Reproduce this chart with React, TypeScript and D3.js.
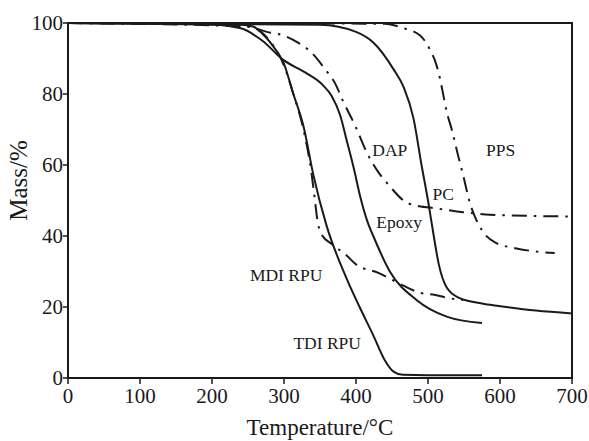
import React from 'react';
import * as d3 from 'd3';

const xTicks = [0, 100, 200, 300, 400, 500, 600, 700];
const yTicks = [0, 20, 40, 60, 80, 100];

const tdiT = [0, 240, 257, 270, 290, 299, 313, 327, 341, 359, 387, 405, 424, 440, 452, 465, 500, 575];
const tdiM = [100, 99.5, 99, 97, 92, 89, 80, 71, 57, 43, 28, 20, 12, 5, 1.8, 0.9, 0.8, 0.8];

const mdiT = [0, 250, 280, 300, 313, 327, 338, 343, 346, 352, 368, 387, 400, 431, 447, 466, 489, 510, 526, 549];
const mdiM = [100, 99, 95, 88, 80, 70, 58, 50, 45, 40.5, 37.5, 34.5, 32, 29.6, 28, 26, 24, 23.4, 22.6, 22];

const epoxyT = [0, 200, 240, 270, 299, 330, 354, 366, 378, 387, 397, 406, 416, 424, 447, 484, 526, 575];
const epoxyM = [100, 99.5, 98.5, 95, 89.6, 86, 82.5, 79.5, 74, 67, 59, 51, 44, 40, 30, 22, 17.3, 15.5];

const pcT = [0, 350, 400, 424, 452, 466, 480, 491, 500, 508, 515, 526, 544, 575, 609, 650, 700];
const pcM = [100, 99.5, 97.5, 94.5, 87, 82, 73, 60, 50, 40, 32, 25.5, 22.5, 21, 20, 19, 18.2];

const dapT = [0, 230, 260, 276, 299, 320, 339, 357, 371, 382, 399, 415, 431, 447, 468, 490, 503, 549, 586, 700];
const dapM = [100, 99.5, 98.5, 97.5, 96.5, 94.4, 91.5, 87, 83, 78, 71, 63.5, 58, 54, 49.7, 48.3, 48, 46.7, 46, 45.5];

const ppsT = [0, 440, 465, 489, 503, 512, 517, 521, 526, 533, 542, 549, 558, 565, 577, 595, 618, 651, 676];
const ppsM = [100, 99.8, 98.6, 96.5, 92.4, 88, 84, 80, 75, 70, 62.5, 57, 49.4, 45.5, 41, 38, 36.7, 35.6, 35.2];

const seriesNames = ['TDI RPU', 'MDI RPU', 'Epoxy', 'PC', 'DAP', 'PPS'];
const seriesT = [tdiT, mdiT, epoxyT, pcT, dapT, ppsT];
const seriesM = [tdiM, mdiM, epoxyM, pcM, dapM, ppsM];
const seriesDashed = [false, true, false, false, true, true];

const labelText = ['DAP', 'PPS', 'PC', 'Epoxy', 'MDI RPU', 'TDI RPU'];
const labelT = [447, 601, 521, 460, 303, 360];
const labelM = [64.2, 64.2, 52, 44, 29, 10];

const W = 589;
const H = 441;
const margin = { left: 68, right: 17, top: 23, bottom: 63 };

export default function App() {
  const x = d3.scaleLinear().domain([0, 700]).range([margin.left, W - margin.right]);
  const y = d3.scaleLinear().domain([0, 100]).range([H - margin.bottom, margin.top]);
  const line = d3
    .line<[number, number]>()
    .x((d) => x(d[0]))
    .y((d) => y(d[1]))
    .curve(d3.curveMonotoneX);
  const font = '"Liberation Serif", "Times New Roman", serif';
  const ink = '#1a1a1a';
  const x0 = x(0), x1 = x(700), y0 = y(0), y1 = y(100);

  return (
    <svg
      width={W}
      height={H}
      style={{ position: 'absolute', left: 0, top: 0, background: '#fff' }}
      fontFamily={font}
    >
      <rect x={0} y={0} width={W} height={H} fill="#fff" />
      {seriesNames.map((name, i) => {
        const pts = seriesT[i].map((t, j) => [t, seriesM[i][j]] as [number, number]);
        return (
          <path
            key={name}
            d={line(pts) || ''}
            fill="none"
            stroke={ink}
            strokeWidth={2}
            strokeDasharray={seriesDashed[i] ? '15 7 2.5 7' : undefined}
          />
        );
      })}
      <rect x={x0} y={y1} width={x1 - x0} height={y0 - y1} fill="none" stroke={ink} strokeWidth={2} />
      {xTicks.map((t) => (
        <g key={'x' + t}>
          <line x1={x(t)} x2={x(t)} y1={y0} y2={y0 + 6} stroke={ink} strokeWidth={1.5} />
          <text x={x(t)} y={y0 + 25} textAnchor="middle" fontSize={21} fill={ink}>
            {t}
          </text>
        </g>
      ))}
      {yTicks.map((m) => (
        <g key={'y' + m}>
          <line x1={x0 - 5} x2={x0} y1={y(m)} y2={y(m)} stroke={ink} strokeWidth={1.5} />
          <text x={x0 - 5} y={y(m)} dy="0.35em" textAnchor="end" fontSize={21} fill={ink}>
            {m}
          </text>
        </g>
      ))}
      {labelText.map((s, i) => (
        <text
          key={s}
          x={x(labelT[i])}
          y={y(labelM[i])}
          dy="0.35em"
          textAnchor="middle"
          fontSize={17.5}
          fill={ink}
        >
          {s}
        </text>
      ))}
      <text x={(x0 + x1) / 2} y={435} textAnchor="middle" fontSize={23} fill={ink}>
        Temperature/°C
      </text>
      <text
        transform={`translate(27, ${(y0 + y1) / 2 - 20}) rotate(-90)`}
        textAnchor="middle"
        fontSize={25}
        fill={ink}
      >
        Mass/%
      </text>
    </svg>
  );
}
